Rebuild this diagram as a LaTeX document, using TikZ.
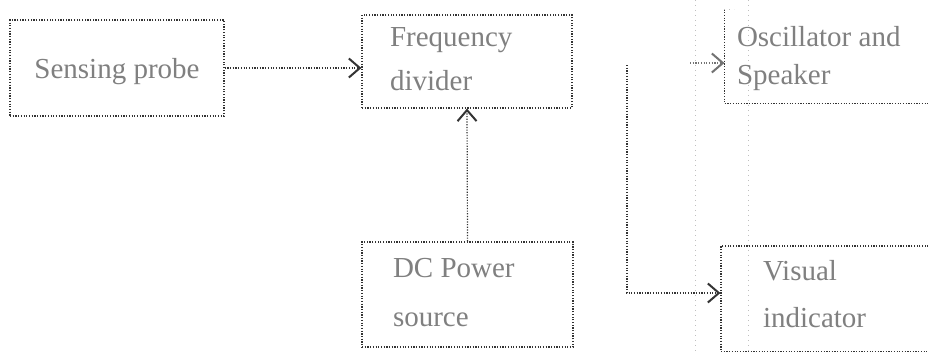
\documentclass[tikz,border=0pt]{standalone}
\usepackage{fontspec}
\setmainfont{Liberation Serif}
\usetikzlibrary{arrows.meta}
\newcommand{\twolines}[5]{\raisebox{#1}[0pt][0pt]{\begin{minipage}[t]{200pt}\fontsize{29}{#3}\selectfont\hspace*{#2}#4\\\hspace*{#2}#5\end{minipage}}}
\newcommand{\oneline}[2]{\raisebox{#1}[0pt][0pt]{#2}}
\begin{document}
\begin{tikzpicture}[x=1pt,y=-1pt,
  dotline/.style={draw=black!80, line width=1.2pt, dash pattern=on 1.2pt off 1.5pt},
  faint/.style={draw=black!25, line width=0.6pt, dash pattern=on 1pt off 4pt},
  blk/.style={dotline, rectangle, inner sep=0pt, font=\fontsize{29}{42}\selectfont, text=black!50},
  arr/.style={dotline, -{Straight Barb[length=11pt,width=19pt,line width=2pt]}}]
\useasboundingbox (0,0) rectangle (928,351);
\clip (0,0) rectangle (928,351);
\fill[white] (0,0) rectangle (928,351);
% faint grid artefacts
\draw[faint] (695,0) -- (695,351);
\draw[faint] (748,0) -- (748,351);
% boxes
\node[blk, minimum width=214pt, minimum height=96pt] (probe) at (117,68) {\oneline{-10pt}{Sensing probe}};
\node[blk, minimum width=210pt, minimum height=93pt] (div) at (467,61.5) {\twolines{15.5pt}{23pt}{44pt}{Frequency}{divider}};
\node[blk, minimum width=211pt, minimum height=105pt] (dc) at (467.5,294.5) {\twolines{17.5pt}{25.5pt}{49pt}{DC Power}{source}};
\node[blk, draw=none, minimum width=260pt, minimum height=93pt] (osc) at (855,56.5) {\twolines{10.5pt}{-18pt}{38pt}{Oscillator and}{Speaker}};
\node[blk, minimum width=260pt, minimum height=106pt] (vis) at (851,299) {\twolines{19pt}{12pt}{47pt}{Visual}{indicator}};
% partial outline of the oscillator box
\draw[dotline] (osc.north west) -- (osc.south west) -- (osc.south east);
\draw[faint] (osc.north west) -- ++(10,0);
% connectors
\draw[arr] (probe.east) -- (div.west |- probe.east);
\draw[arr] (dc.north) -- (div.south);
\coordinate (tap) at (627,65);
\coordinate (bend) at (627,293);
\draw[arr] (tap) -- (bend) -- (vis.west |- bend);
\coordinate (oscin) at (690,63);
\draw[arr, draw=black!55] (oscin) -- (osc.west |- oscin);
\end{tikzpicture}
\end{document}
